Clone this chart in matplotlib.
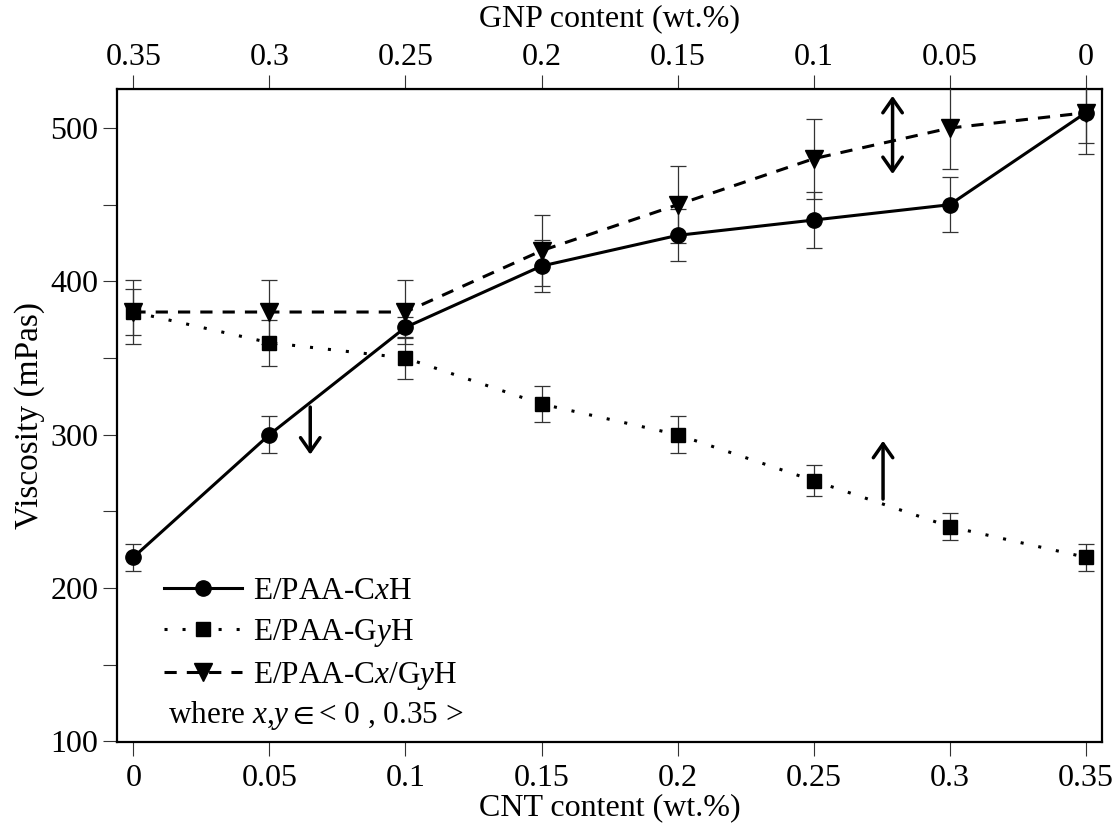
import matplotlib
matplotlib.use("Agg")
import matplotlib.pyplot as plt
import numpy as np
from matplotlib.ticker import FixedLocator, MultipleLocator

plt.rcParams['font.family'] = ['Liberation Serif', 'DejaVu Serif']
plt.rcParams['mathtext.fontset'] = 'custom'
plt.rcParams['mathtext.rm'] = 'Liberation Serif'
plt.rcParams['mathtext.it'] = 'Liberation Serif:italic'
plt.rcParams['mathtext.fallback'] = 'stix'

# data
cnt = [0, 0.05, 0.1, 0.15, 0.2, 0.25, 0.3, 0.35]
cnt_labels = ['0', '0.05', '0.1', '0.15', '0.2', '0.25', '0.3', '0.35']
gnp_labels = ['0.35', '0.3', '0.25', '0.2', '0.15', '0.1', '0.05', '0']

visc_c = [220, 300, 370, 410, 430, 440, 450, 510]
err_c = [9, 12, 7, 17, 17, 18, 18, 20]
visc_g = [380, 360, 350, 320, 300, 270, 240, 220]
err_g = [15, 15, 14, 12, 12, 10, 9, 9]
visc_cg = [380, 380, 380, 420, 450, 480, 500, 510]
err_cg = [21, 21, 21, 23, 25, 26, 27, 27]

y_ticks = [100, 200, 300, 400, 500]

# annotation arrows: (x, tail, head)
arrows_single = [(0.065, 318, 287), (0.2755, 258, 296)]
arrow_double = (0.279, 470, 521)

fig = plt.figure(figsize=(11.19, 8.3), dpi=100)
ax = fig.add_axes([0.1046, 0.106, 0.8803, 0.7868])

ebc = '#333333'
lw = 2.2
e1 = ax.errorbar(cnt, visc_c, yerr=err_c, color='black', lw=lw, ls='-',
                 marker='o', ms=11, ecolor=ebc, elinewidth=0.9, capsize=6,
                 capthick=0.9, zorder=3)
e2 = ax.errorbar(cnt, visc_g, yerr=err_g, color='black', lw=lw, ls=(0, (1, 4.9)),
                 marker='s', ms=9.5, ecolor=ebc, elinewidth=0.9, capsize=6,
                 capthick=0.9, zorder=3)
e3 = ax.errorbar(cnt, visc_cg, yerr=err_cg, color='black', lw=lw, ls=(0, (4, 3.3)),
                 marker='v', ms=12.5, ecolor=ebc, elinewidth=0.9, capsize=6,
                 capthick=0.9, zorder=3)

for x, y0, y1 in arrows_single:
    ax.annotate('', xy=(x, y1), xytext=(x, y0),
                arrowprops=dict(arrowstyle='->,head_length=0.5,head_width=0.35',
                                lw=2.5, color='black', mutation_scale=20,
                                shrinkA=0, shrinkB=0))
x, y0, y1 = arrow_double
ax.annotate('', xy=(x, y1), xytext=(x, y0),
            arrowprops=dict(arrowstyle='<->,head_length=0.5,head_width=0.35',
                            lw=2.5, color='black', mutation_scale=20,
                            shrinkA=0, shrinkB=0))

ax.set_xlim(-0.006, 0.356)
ax.set_ylim(99.5, 525.5)

ax.xaxis.set_major_locator(FixedLocator(cnt))
ax.set_xticklabels(cnt_labels)
ax.yaxis.set_major_locator(FixedLocator(y_ticks))
ax.yaxis.set_minor_locator(MultipleLocator(50))
ax.tick_params(axis='both', which='both', direction='out', length=10,
               width=0.8, color='#333333', labelsize=23)
ax.tick_params(axis='x', pad=6)

for s in ax.spines.values():
    s.set_linewidth(1.6)

ax.set_xlabel('CNT content (wt.%)', fontsize=23, labelpad=0)
ax.set_ylabel('Viscosity (mPas)', fontsize=24, labelpad=4)

top = ax.secondary_xaxis('top')
top.xaxis.set_major_locator(FixedLocator(cnt))
top.set_xticklabels(gnp_labels)
top.tick_params(direction='out', length=10, width=0.8, color='#333333',
                labelsize=23, pad=2)
top.set_xlabel('GNP content (wt.%)', fontsize=23, labelpad=12)

handles = [e1[0], e2[0], e3[0]]
labels = [r'E/PAA-C$x$H', r'E/PAA-G$y$H', r'E/PAA-C$x$/G$y$H']
ax.legend(handles, labels, loc='lower left', bbox_to_anchor=(0.035, 0.058),
          frameon=False, fontsize=22.5, handlelength=2.5, handletextpad=0.35,
          labelspacing=0.35, borderaxespad=0)
ax.text(0.052, 0.041, r'where $x$,$y$$\in$< 0 , 0.35 >', transform=ax.transAxes,
        fontsize=22.5, va='center', ha='left')

fig.savefig('out.png', dpi=100)
